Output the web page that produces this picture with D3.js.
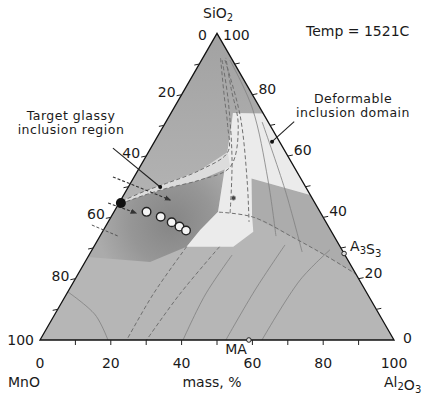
<!DOCTYPE html>
<html>
<head>
<meta charset="utf-8">
<script src="https://cdn.jsdelivr.net/npm/d3@7"></script>
<style>
  body { margin: 0; background: #fff; }
  svg { display: block; font-family: "DejaVu Sans", sans-serif; }
</style>
</head>
<body>
<svg id="chart" width="423" height="395"></svg>
<script>
// every composition is [SiO2, Al2O3] in mass %, MnO is what is left
const axisTicks = [0, 20, 40, 60, 80, 100];
const minorTicks = [10, 20, 30, 40, 50, 60, 70, 80, 90];

// shaded fields of the 1521C section
const upperRegion = [[100, 0], [45.3, 0], [48.6, 5.4], [51.1, 10.2], [55.4, 17.5], [61.3, 22.4], [69.1, 19.4], [74.0, 17.5], [73.9, 26.1]];
const targetRegion = [[44.4, 0], [27.1, 0], [25.4, 18.4], [30.4, 26.2], [35.9, 27.3], [41.8, 29.4], [52.7, 25.4], [56.4, 25.5], [52.2, 19.1], [49.5, 11.1], [47.3, 6.0]];
const rightRegion = [[52.7, 33.4], [47.3, 52.7], [21.5, 78.5], [27.5, 67], [33.3, 55.1], [40.1, 40.1], [40.8, 39.5]];
const deformRegion = [[74.0, 17.5], [73.9, 26.1], [47.3, 52.7], [52.7, 33.4], [40.8, 39.5], [35.3, 42.6], [30.4, 39.4], [30.4, 26.2], [35.9, 27.3], [41.8, 29.4], [52.7, 25.4], [69.1, 19.4]];
const glassyBand = [[45.3, 0], [48.6, 5.4], [51.1, 10.2], [55.4, 17.5], [61.3, 22.4], [56.4, 25.5], [52.2, 19.1], [49.5, 11.1], [47.3, 6.0], [44.4, 0]];

// boundary / isotherm lines
const dashedLines = [
  [[41.7, 29.7], [40.1, 40.1], [33.3, 55.1], [27.5, 67], [21.5, 78.5]],
  [[30.4, 26.2], [15, 24.5], [0, 24.5]],
  [[30.4, 35.5], [15, 32], [0, 30.1]],
  [[45.3, 0.5], [48.6, 5.4], [51.1, 10.2], [55.4, 17.5], [61.3, 22.4], [70, 18], [80, 12], [92, 5]],
  [[44.4, 0.5], [47.3, 6], [49.5, 11.1], [52.2, 19.1], [56.4, 25.5], [70, 21], [82, 13], [92, 6.5]],
  [[91.3, 5.8], [78.3, 14.0], [58.7, 24.9], [41.4, 33.0]],
  [[91.3, 6.6], [73.4, 19.8], [52.2, 32.4], [38.5, 39.8]]
];
const solidLines = [
  [[15.7, 0], [8.2, 11.5], [0, 19.2]],
  [[0, 40.4], [14.7, 39.3], [27.7, 40.4]],
  [[0, 52.5], [16.3, 52.6], [31, 53.7]],
  [[0, 62.7], [19.6, 63.7], [29.4, 67.2]],
  [[91.3, 8.0], [75.7, 22.1], [52.2, 38.3], [33.9, 49.7]],
  [[71.1, 27.2], [48.9, 44.8], [28.7, 59.7]]
];

// points
const glassyPoint = [44.7, 0.5];
const inclusions = [[41.8, 9.2], [40.2, 14.0], [38.4, 18.0], [37.0, 20.9], [35.7, 23.4]];
const bandPoints = [[46.3, 31.5]];
const compoundNames = ["MA", "A3S3"];
const compoundAt = [[0, 59], [28.2, 71.8]];

// annotation pointers
const targetLeader = [[62.6, -10.7], [49.9, 9.0]];
const deformLeader = [[71.2, 36.2], [64.7, 33.2]];
const dashedArrows = [[[53.2, -6.0], [45.7, 13.9]], [[44.7, -3.1], [41.4, 6.4]]];
const dashedMark = [[37.5, -4.1], [33.9, 5.1]];

const svg = d3.select("#chart");

const x = d3.scaleLinear().domain([0, 100]).range([40, 394]);
const y = d3.scaleLinear().domain([0, 100]).range([340, 33.4]);
const px = d => x(d[1] + d[0] / 2);
const py = d => y(d[0]);

const closed = d3.line().x(px).y(py).curve(d3.curveLinearClosed);
const straight = d3.line().x(px).y(py);
const smooth = d3.line().x(px).y(py).curve(d3.curveCatmullRom);

const corners = [[0, 0], [0, 100], [100, 0]];

const defs = svg.append("defs");
defs.append("clipPath").attr("id", "tri")
  .append("path").attr("d", closed(corners));

const upGrad = defs.append("linearGradient").attr("id", "upGrad")
  .attr("gradientUnits", "userSpaceOnUse")
  .attr("x1", 0).attr("x2", 0).attr("y1", y(100)).attr("y2", y(45));
upGrad.append("stop").attr("offset", 0).attr("stop-color", "#a2a2a2");
upGrad.append("stop").attr("offset", 1).attr("stop-color", "#b3b3b3");

const darkGrad = defs.append("radialGradient").attr("id", "darkGrad")
  .attr("gradientUnits", "userSpaceOnUse")
  .attr("cx", px(inclusions[2])).attr("cy", py(inclusions[2])).attr("r", 75);
darkGrad.append("stop").attr("offset", 0).attr("stop-color", "#858585");
darkGrad.append("stop").attr("offset", 0.55).attr("stop-color", "#969696");
darkGrad.append("stop").attr("offset", 1).attr("stop-color", "#ababab");

defs.append("marker").attr("id", "arrow")
  .attr("viewBox", "0 0 10 10").attr("refX", 8).attr("refY", 5)
  .attr("markerWidth", 6).attr("markerHeight", 6).attr("orient", "auto")
  .append("path").attr("d", "M0,1L10,5L0,9z").attr("fill", "#333");

const field = svg.append("g").attr("clip-path", "url(#tri)");

field.append("path").attr("d", closed(corners)).attr("fill", "#b6b6b6");
field.append("path").attr("d", closed(upperRegion)).attr("fill", "url(#upGrad)");
field.append("path").attr("d", closed(rightRegion)).attr("fill", "#acacac");
field.append("path").attr("d", closed(targetRegion)).attr("fill", "url(#darkGrad)");
field.append("path").attr("d", closed(deformRegion)).attr("fill", "#ebebeb");
field.append("path").attr("d", closed(glassyBand)).attr("fill", "#dcdcdc");

field.append("g")
  .selectAll("path")
  .data(solidLines)
  .join("path")
  .attr("d", smooth)
  .attr("fill", "none")
  .attr("stroke", "#808080")
  .attr("stroke-width", 0.8);

field.append("g")
  .selectAll("path")
  .data(dashedLines)
  .join("path")
  .attr("d", smooth)
  .attr("fill", "none")
  .attr("stroke", "#6f6f6f")
  .attr("stroke-width", 1)
  .attr("stroke-dasharray", "4,2.5");

// outline and ticks
svg.append("path").attr("d", closed(corners))
  .attr("fill", "none").attr("stroke", "#111").attr("stroke-width", 1.3);

const ticks = svg.append("g").attr("stroke", "#222").attr("stroke-width", 1);
ticks.selectAll(".b").data(minorTicks).join("line").attr("class", "b")
  .attr("x1", v => px([0, v])).attr("x2", v => px([0, v]))
  .attr("y1", v => py([0, v])).attr("y2", v => py([0, v]) + 5);
ticks.selectAll(".l").data(minorTicks).join("line").attr("class", "l")
  .attr("x1", v => px([v, 0])).attr("x2", v => px([v, 0]) - 5)
  .attr("y1", v => py([v, 0])).attr("y2", v => py([v, 0]) + 1);
ticks.selectAll(".r").data(minorTicks).join("line").attr("class", "r")
  .attr("x1", v => px([v, 100 - v])).attr("x2", v => px([v, 100 - v]) + 5)
  .attr("y1", v => py([v, 100 - v])).attr("y2", v => py([v, 100 - v]) - 1);

const labels = svg.append("g").attr("font-size", 14).attr("fill", "#1a1a1a");

labels.selectAll(".bl").data(axisTicks).join("text").attr("class", "bl")
  .attr("x", v => px([0, v])).attr("y", 368)
  .attr("text-anchor", "middle").text(v => v);

// left axis reads MnO, so 100 sits at the bottom
labels.selectAll(".ll").data(axisTicks).join("text").attr("class", "ll")
  .attr("x", v => px([100 - v, 0]) - (v === 0 ? 10 : 6))
  .attr("y", v => py([100 - v, 0]) + (v === 0 ? 7 : v === 100 ? 5 : 2))
  .attr("text-anchor", "end").text(v => v);

labels.selectAll(".rl").data(axisTicks).join("text").attr("class", "rl")
  .attr("x", v => px([v, 100 - v]) + (v === 0 ? 9 : 6))
  .attr("y", v => py([v, 100 - v]) + (v === 100 ? 7 : v === 0 ? 3 : -1))
  .attr("text-anchor", "start").text(v => v);

function chem(sel, parts) {
  parts.forEach(p => {
    if (/\d/.test(p)) sel.append("tspan").attr("font-size", 10).attr("dy", 3).text(p)
      .call(t => sel.append("tspan").attr("dy", -3).text(""));
    else sel.append("tspan").text(p);
  });
}

chem(labels.append("text").attr("x", 203).attr("y", 18), ["SiO", "2"]);
chem(labels.append("text").attr("x", 384).attr("y", 387), ["Al", "2", "O", "3"]);
labels.append("text").attr("x", 8).attr("y", 387).text("MnO");
labels.append("text").attr("x", 212).attr("y", 387).attr("text-anchor", "middle").text("mass, %");
labels.append("text").attr("x", 306).attr("y", 36).text("Temp = 1521C");

function twoLines(cx, y0, lines) {
  lines.forEach((s, i) => labels.append("text")
    .attr("x", cx).attr("y", y0 + i * 14.7)
    .attr("text-anchor", "middle")
    .attr("font-size", 12.5)
    .attr("letter-spacing", 0.5)
    .text(s));
}
twoLines(71, 119.5, ["Target glassy", "inclusion region"]);
twoLines(353, 102.5, ["Deformable", "inclusion domain"]);

// compounds
svg.append("g")
  .selectAll("circle")
  .data(compoundAt)
  .join("circle")
  .attr("cx", px).attr("cy", py).attr("r", 2.3)
  .attr("fill", "#ddd").attr("stroke", "#222").attr("stroke-width", 1);

chem(labels.append("text").attr("x", px(compoundAt[0]) - 2).attr("y", 354).attr("text-anchor", "end"), [compoundNames[0]]);
chem(labels.append("text").attr("x", px(compoundAt[1]) + 6).attr("y", py(compoundAt[1]) - 3), ["A", "3", "S", "3"]);

// pointers
const notes = svg.append("g").attr("fill", "none");
notes.append("path").attr("d", straight(targetLeader)).attr("stroke", "#222").attr("stroke-width", 1.1);
notes.append("path").attr("d", straight(deformLeader)).attr("stroke", "#222").attr("stroke-width", 1.1);
notes.selectAll(".da").data(dashedArrows).join("path").attr("class", "da")
  .attr("d", straight)
  .attr("stroke", "#333").attr("stroke-width", 1.1)
  .attr("stroke-dasharray", "3,2")
  .attr("marker-end", "url(#arrow)");
notes.append("path").attr("d", straight(dashedMark))
  .attr("stroke", "#555").attr("stroke-width", 1).attr("stroke-dasharray", "3,2");

svg.append("g")
  .selectAll("circle")
  .data([targetLeader[1], deformLeader[1]])
  .join("circle")
  .attr("cx", px).attr("cy", py).attr("r", 2).attr("fill", "#111");

svg.append("g")
  .selectAll("circle")
  .data(bandPoints)
  .join("circle")
  .attr("cx", px).attr("cy", py).attr("r", 2.2)
  .attr("fill", "#444").attr("stroke", "#999").attr("stroke-width", 0.8);

svg.append("circle")
  .attr("cx", px(glassyPoint)).attr("cy", py(glassyPoint)).attr("r", 5)
  .attr("fill", "#111");

svg.append("g")
  .selectAll("circle")
  .data(inclusions)
  .join("circle")
  .attr("cx", px).attr("cy", py).attr("r", 4.3)
  .attr("fill", "#f4f4f4").attr("stroke", "#222").attr("stroke-width", 1.4);
</script>
</body>
</html>
